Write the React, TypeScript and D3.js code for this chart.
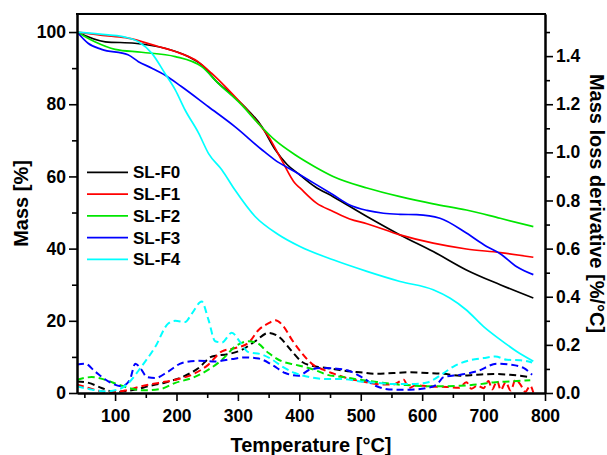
import { useEffect, useRef } from 'react';
import * as d3 from 'd3';

// TGA curves (mass %, left axis) and DTG curves (mass loss derivative %/°C, right axis)
const SERIES_NAMES = ['SL-F0', 'SL-F1', 'SL-F2', 'SL-F3', 'SL-F4'];
const SERIES_COLORS = ['#000000', '#ff0000', '#00e600', '#0000ff', '#00ffff'];

const MASS_F0 = [[38, 100], [84, 97.3], [132, 96.9], [181, 95.5], [219, 93.2], [241, 90.9], [263, 86.7], [290, 82.6], [311, 79.3], [339, 73.8], [360, 67.6], [380, 63.3], [401, 60.4], [425, 57.2], [455, 54.4], [510, 48.9], [564, 43.8], [618, 39.2], [672, 34.1], [727, 30], [781, 26.3]];
const MASS_F1 = [[38, 100], [89, 98.9], [121, 98.3], [170, 96], [198, 94.6], [235, 91.8], [257, 88.6], [290, 83], [322, 77], [350, 71], [371, 64.6], [393, 58.1], [401, 56.8], [428, 52.6], [455, 50.3], [482, 48.2], [510, 46.9], [564, 43.8], [618, 41.5], [672, 39.9], [727, 38.9], [781, 37.6]];
const MASS_F2 = [[38, 100], [67, 97.3], [100, 95.2], [143, 94.4], [198, 93.2], [241, 90.4], [268, 85.8], [306, 79.8], [333, 74.7], [360, 70.1], [393, 66], [425, 62.7], [455, 60], [510, 56.8], [564, 54.4], [618, 52.4], [672, 50.7], [727, 48.4], [781, 46.1]];
const MASS_F3 = [[38, 100], [56, 96.9], [78, 95.2], [121, 93.7], [138, 91.8], [160, 90], [181, 88.1], [208, 84.9], [252, 79.3], [295, 73.8], [339, 67.4], [360, 64.6], [393, 61.3], [425, 58], [455, 54.9], [482, 52.1], [510, 50.6], [537, 49.8], [564, 49.5], [591, 49.4], [629, 48.4], [672, 44.3], [705, 40.6], [727, 38.6], [754, 35], [781, 32.8]];
const MASS_F4 = [[38, 100], [89, 99.2], [116, 98.6], [138, 97.3], [160, 94.1], [181, 88.6], [198, 84], [214, 78.4], [236, 72], [252, 66.4], [274, 61.8], [295, 56.3], [328, 48.9], [365, 44], [401, 40.6], [455, 36.9], [510, 33.7], [564, 30.9], [618, 28.6], [645, 26.3], [672, 23], [700, 18.4], [727, 14.8], [754, 11.5], [781, 8.8]];

const DTG_F0 = [[38, 0.048], [57, 0.042], [78, 0.021], [100, 0.004], [116, 0.007], [133, 0.014], [154, 0.028], [182, 0.044], [209, 0.066], [236, 0.104], [258, 0.152], [285, 0.162], [307, 0.18], [328, 0.215], [350, 0.25], [366, 0.235], [388, 0.173], [404, 0.13], [426, 0.11], [445, 0.104], [472, 0.093], [499, 0.086], [526, 0.08], [553, 0.083], [580, 0.086], [608, 0.083], [635, 0.08], [662, 0.072], [689, 0.076], [716, 0.079], [743, 0.076], [776, 0.066]];
const DTG_F1 = [[38, 0.035], [57, 0.021], [78, 0.007], [100, 0.004], [116, 0.01], [143, 0.028], [171, 0.042], [198, 0.055], [225, 0.076], [252, 0.118], [274, 0.173], [296, 0.187], [317, 0.208], [334, 0.263], [350, 0.29], [361, 0.302], [372, 0.284], [388, 0.221], [404, 0.166], [421, 0.12], [439, 0.097], [461, 0.076], [483, 0.058], [504, 0.048], [526, 0.037], [553, 0.035], [570, 0.055], [578, 0.02], [590, 0.032], [610, 0.028], [640, 0.025], [660, 0.022], [672, 0.045], [680, 0.018], [690, 0.03], [700, 0.02], [708, 0.05], [714, 0.015], [722, 0.05], [728, 0.012], [736, 0.045], [744, 0.01], [752, 0.055], [760, 0.035], [768, 0.005], [776, 0.03], [781, 0.002]];
const DTG_F2 = [[38, 0.055], [62, 0.066], [84, 0.055], [105, 0.035], [127, 0.018], [149, 0.011], [176, 0.018], [198, 0.042], [225, 0.062], [252, 0.097], [274, 0.138], [296, 0.194], [317, 0.215], [331, 0.208], [350, 0.166], [372, 0.131], [393, 0.118], [426, 0.095], [445, 0.076], [472, 0.066], [499, 0.055], [526, 0.046], [553, 0.037], [580, 0.032], [608, 0.028], [635, 0.028], [662, 0.03], [689, 0.035], [716, 0.044], [743, 0.048], [776, 0.053]];
const DTG_F3 = [[38, 0.118], [51, 0.122], [67, 0.09], [89, 0.048], [111, 0.028], [124, 0.055], [133, 0.122], [141, 0.104], [152, 0.066], [165, 0.062], [187, 0.09], [209, 0.125], [236, 0.134], [263, 0.131], [290, 0.141], [312, 0.148], [334, 0.143], [355, 0.118], [377, 0.083], [399, 0.072], [417, 0.097], [439, 0.104], [461, 0.101], [483, 0.09], [504, 0.062], [526, 0.028], [553, 0.014], [580, 0.014], [608, 0.021], [624, 0.035], [635, 0.066], [662, 0.076], [689, 0.09], [722, 0.122], [743, 0.118], [765, 0.104], [779, 0.076]];
const DTG_F4 = [[38, 0.028], [62, 0.014], [84, 0.007], [105, 0.014], [122, 0.042], [143, 0.11], [165, 0.19], [187, 0.29], [198, 0.3], [214, 0.295], [225, 0.33], [241, 0.38], [252, 0.305], [263, 0.215], [274, 0.21], [290, 0.25], [304, 0.21], [317, 0.17], [339, 0.16], [355, 0.14], [372, 0.11], [393, 0.083], [417, 0.066], [445, 0.058], [472, 0.058], [499, 0.048], [526, 0.042], [553, 0.037], [580, 0.037], [608, 0.044], [635, 0.083], [651, 0.11], [678, 0.136], [700, 0.145], [719, 0.152], [738, 0.138], [760, 0.136], [779, 0.127]];

const MASS = [MASS_F0, MASS_F1, MASS_F2, MASS_F3, MASS_F4];
const DTG = [DTG_F0, DTG_F1, DTG_F2, DTG_F3, DTG_F4];

const X_TICKS = [100, 200, 300, 400, 500, 600, 700, 800];
const X_MINOR = [50, 150, 250, 350, 450, 550, 650, 750];
const YL_TICKS = [0, 20, 40, 60, 80, 100];
const YL_MINOR = [10, 30, 50, 70, 90];
const YR_TICKS = [0, 0.2, 0.4, 0.6, 0.8, 1.0, 1.2, 1.4];
const YR_MINOR = [0.1, 0.3, 0.5, 0.7, 0.9, 1.1, 1.3, 1.5];

const FONT = '"Liberation Sans", Arial, sans-serif';

export default function App() {
  const svgRef = useRef<SVGSVGElement>(null);

  useEffect(() => {
    if (!svgRef.current) return;
    const svg = d3.select(svgRef.current);
    svg.selectAll('*').remove();

    const left = 77, right = 545, top = 14, bottom = 393;

    const x = d3.scaleLinear().domain([38, 800]).range([left, right]);
    const yL = d3.scaleLinear().domain([0, 105]).range([bottom, top]);
    const yR = d3.scaleLinear().domain([0, 1.575]).range([bottom, top]);

    // dashed derivative curves
    const dtgLine = d3.line<number[]>().x(d => x(d[0])).y(d => yR(d[1])).curve(d3.curveMonotoneX);
    DTG.forEach((s, i) => {
      svg.append('path').datum(s)
        .attr('d', dtgLine)
        .attr('fill', 'none')
        .attr('stroke', SERIES_COLORS[i])
        .attr('stroke-width', 2)
        .attr('stroke-dasharray', '7,4');
    });

    // solid mass curves
    const massLine = d3.line<number[]>().x(d => x(d[0])).y(d => yL(d[1])).curve(d3.curveMonotoneX);
    MASS.forEach((s, i) => {
      svg.append('path').datum(s)
        .attr('d', massLine)
        .attr('fill', 'none')
        .attr('stroke', SERIES_COLORS[i])
        .attr('stroke-width', 1.7);
    });

    const styleAxis = (g: any) => {
      g.selectAll('path.domain').attr('stroke', '#000').attr('stroke-width', 2);
      g.selectAll('.tick line').attr('stroke', '#000').attr('stroke-width', 1.6);
      g.selectAll('.tick text')
        .attr('font-family', FONT)
        .attr('font-weight', 'bold')
        .attr('font-size', 17.5)
        .attr('fill', '#000');
    };

    // bottom axis
    svg.append('g').attr('transform', `translate(0,${bottom})`)
      .call(d3.axisBottom(x).tickValues(X_MINOR).tickSize(5).tickFormat(() => '').tickSizeOuter(0))
      .call(styleAxis);
    svg.append('g').attr('transform', `translate(0,${bottom})`)
      .call(d3.axisBottom(x).tickValues(X_TICKS).tickSize(8).tickPadding(9).tickSizeOuter(0))
      .call(styleAxis);

    // left axis
    svg.append('g').attr('transform', `translate(${left},0)`)
      .call(d3.axisLeft(yL).tickValues(YL_MINOR).tickSize(5).tickFormat(() => '').tickSizeOuter(0))
      .call(styleAxis);
    svg.append('g').attr('transform', `translate(${left},0)`)
      .call(d3.axisLeft(yL).tickValues(YL_TICKS).tickSize(8).tickPadding(3).tickSizeOuter(0))
      .call(styleAxis);

    // right axis
    svg.append('g').attr('transform', `translate(${right},0)`)
      .call(d3.axisRight(yR).tickValues(YR_MINOR).tickSize(5).tickFormat(() => '').tickSizeOuter(0))
      .call(styleAxis);
    svg.append('g').attr('transform', `translate(${right},0)`)
      .call(d3.axisRight(yR).tickValues(YR_TICKS).tickSize(8).tickPadding(3).tickFormat(d3.format('.1f')).tickSizeOuter(0))
      .call(styleAxis);

    // top frame line
    svg.append('line')
      .attr('x1', left - 1).attr('x2', right + 1)
      .attr('y1', top).attr('y2', top)
      .attr('stroke', '#000').attr('stroke-width', 2);

    // legend
    const legend = svg.append('g');
    SERIES_NAMES.forEach((name, i) => {
      const cy = 172.3 + i * 21.75;
      legend.append('line')
        .attr('x1', 87).attr('x2', 128)
        .attr('y1', cy).attr('y2', cy)
        .attr('stroke', SERIES_COLORS[i]).attr('stroke-width', 1.8);
      legend.append('text')
        .attr('x', 133).attr('y', cy)
        .attr('dy', '0.36em')
        .attr('font-family', FONT).attr('font-weight', 'bold').attr('font-size', 17)
        .text(name);
    });

    // axis titles
    svg.append('text')
      .attr('x', (left + right) / 2).attr('y', 452)
      .attr('text-anchor', 'middle')
      .attr('font-family', FONT).attr('font-weight', 'bold').attr('font-size', 20)
      .text('Temperature [°C]');

    svg.append('text')
      .attr('transform', `translate(28,${(top + bottom) / 2}) rotate(-90)`)
      .attr('text-anchor', 'middle')
      .attr('font-family', FONT).attr('font-weight', 'bold').attr('font-size', 20)
      .text('Mass [%]');

    svg.append('text')
      .attr('transform', `translate(590,${(top + bottom) / 2}) rotate(90)`)
      .attr('text-anchor', 'middle')
      .attr('font-family', FONT).attr('font-weight', 'bold').attr('font-size', 20)
      .text('Mass loss derivative [%/°C]');
  }, []);

  return (
    <div style={{ position: 'absolute', left: 0, top: 0, background: '#fff' }}>
      <svg ref={svgRef} width={607} height={455} style={{ display: 'block' }} />
    </div>
  );
}
